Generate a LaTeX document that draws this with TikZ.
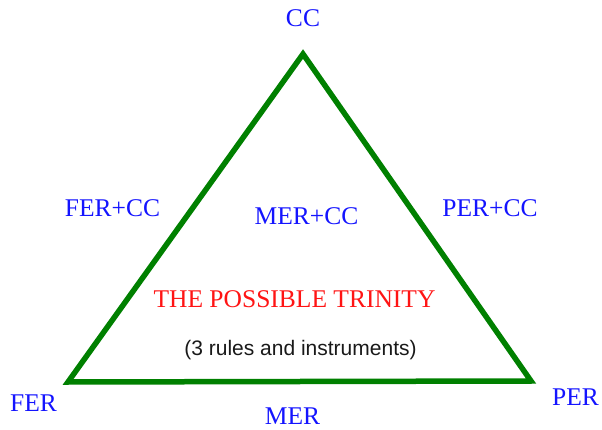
\documentclass[tikz,border=0pt]{standalone}
\usepackage{fontspec}
\setmainfont{Liberation Serif}
\newfontfamily\arialfont{Liberation Sans}
\definecolor{trigreen}{RGB}{0,128,0}
\definecolor{lblblue}{RGB}{20,20,255}
\definecolor{lblred}{RGB}{255,20,20}
\begin{document}
\begin{tikzpicture}[x=1pt,y=-1pt,
  lbl/.style={anchor=base,inner sep=0pt,text=lblblue,font=\fontsize{25.5}{28}\selectfont},
  title/.style={anchor=base,inner sep=0pt,text=lblred,font=\fontsize{25.5}{28}\selectfont},
  sub/.style={anchor=base,inner sep=0pt,text=black!90,font=\arialfont\fontsize{21}{24}\selectfont},
  edge/.style={draw=trigreen,line width=5.5pt,line join=miter}]
\useasboundingbox (0,0) rectangle (602,430);
\coordinate (top) at (303,54);
\coordinate (bl) at (68,382);
\coordinate (br) at (531,381);
\draw[edge] (top) -- (bl) -- (br) -- cycle;
\node[lbl] (cc) at (303,27) {CC};
\node[lbl] (fercc) at (112.5,217) {FER+CC};
\node[lbl] (mercc) at (306.5,225) {MER+CC};
\node[lbl] (percc) at (490,217) {PER+CC};
\node[lbl] (fer) at (33.5,411) {FER};
\node[lbl] (mer) at (292.5,424.5) {MER};
\node[lbl] (per) at (575.5,405) {PER};
\node[title] (trin) at (294.5,307) {THE POSSIBLE TRINITY};
\node[sub] (rules) at (300.5,355) {(3 rules and instruments)};
\end{tikzpicture}
\end{document}
